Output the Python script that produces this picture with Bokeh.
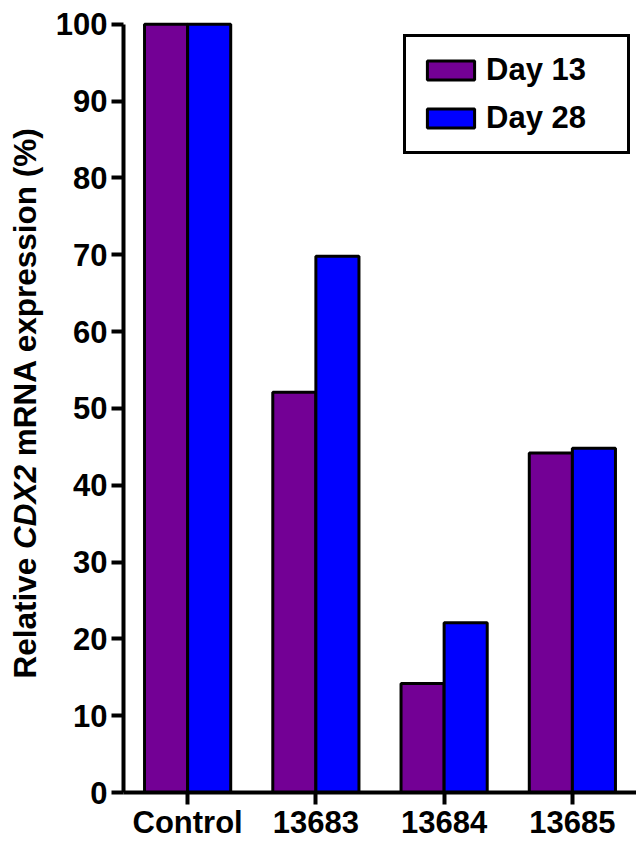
import math
from bokeh.plotting import figure
from bokeh.layouts import row
from bokeh.models import (FactorRange, Range1d, Label, Legend, LegendItem,
                          ColumnDataSource, FixedTicker)
from bokeh.transform import dodge
from bokeh.embed import file_html
from bokeh.resources import INLINE

# ---- data ----
categories = ["Control", "13683", "13684", "13685"]
series_names = ["Day 13", "Day 28"]
day13 = [100, 52.1, 14.2, 44.2]
day28 = [100, 69.8, 22.1, 44.8]
y_ticks = [0, 10, 20, 30, 40, 50, 60, 70, 80, 90, 100]
series_colors = ["#730095", "#0000FF"]
y_label_parts = ["Relative", "CDX2", "mRNA expression (%)"]

FONT = "Liberation Sans"
FS = 31
H = 842
LW = 50  # width of the y-label strip

src = ColumnDataSource(dict(cat=categories, d13=day13, d28=day28))

p = figure(width=636 - LW, height=H,
           x_range=FactorRange(*categories), y_range=Range1d(0, 100.5),
           output_backend="svg", toolbar_location=None,
           min_border_left=123 - LW, min_border_right=0,
           min_border_top=20, min_border_bottom=0)

bw = 0.336
r1 = p.vbar(x=dodge("cat", -bw / 2, range=p.x_range), top="d13", width=bw,
            source=src, fill_color=series_colors[0], line_color="black",
            line_width=3)
r2 = p.vbar(x=dodge("cat", bw / 2, range=p.x_range), top="d28", width=bw,
            source=src, fill_color=series_colors[1], line_color="black",
            line_width=3)

p.outline_line_color = None
p.xgrid.visible = False
p.ygrid.visible = False
p.background_fill_color = "white"
p.border_fill_color = "white"

for ax in (p.xaxis[0], p.yaxis[0]):
    ax.axis_line_width = 4
    ax.axis_line_color = "black"
    ax.major_tick_line_width = 4
    ax.major_tick_line_color = "black"
    ax.major_tick_out = 12
    ax.major_tick_in = 0
    ax.minor_tick_line_color = None
    ax.major_label_text_font = FONT
    ax.major_label_text_font_style = "bold"
    ax.major_label_text_font_size = f"{FS}px"
    ax.major_label_text_color = "black"

p.yaxis[0].ticker = FixedTicker(ticks=y_ticks)
p.yaxis[0].bounds = (0, 100)
p.yaxis[0].major_label_standoff = 4
p.xaxis[0].major_label_standoff = 0

# ---- legend ----
legend = Legend(items=[LegendItem(label=series_names[0], renderers=[r1]),
                       LegendItem(label=series_names[1], renderers=[r2])],
                location=(280, 638), margin=0, padding=15,
                glyph_width=59, glyph_height=24, label_standoff=6,
                spacing=12, label_width=126,
                label_text_font=FONT, label_text_font_style="bold",
                label_text_font_size=f"{FS}px", label_text_color="black",
                border_line_color="black", border_line_width=3,
                border_line_alpha=1,
                background_fill_color="white", background_fill_alpha=1)
p.add_layout(legend)

# ---- y-axis label strip (mixed bold / bold-italic text) ----
lab = figure(width=LW, height=H, x_range=Range1d(0, 1), y_range=Range1d(0, 1),
             x_axis_type=None, y_axis_type=None,
             output_backend="svg", toolbar_location=None,
             min_border=0, min_border_left=0, min_border_right=0,
             min_border_top=0, min_border_bottom=0)
lab.outline_line_color = None
lab.xgrid.visible = False
lab.ygrid.visible = False
lab.border_fill_color = "white"
lab.background_fill_color = "white"

LFS = 31.5
# advance widths (em) of "Relative ", "CDX2 " in Arial/Liberation Sans Bold
offsets = [0.0, 4.113 * LFS, (4.113 + 2.667 + 0.278) * LFS]
styles = ["bold", "bold italic", "bold"]
for txt, style, off in zip(y_label_parts, styles, offsets):
    lab.add_layout(Label(x=24, y=114, x_units="screen", y_units="screen",
                         y_offset=off, text=txt, angle=math.pi / 2,
                         text_align="left", text_baseline="alphabetic",
                         text_font=FONT, text_font_style=style,
                         text_font_size=f"{LFS}px", text_color="black"))

layout = row(lab, p, spacing=0)
open("out.html", "w").write(file_html(layout, INLINE))
